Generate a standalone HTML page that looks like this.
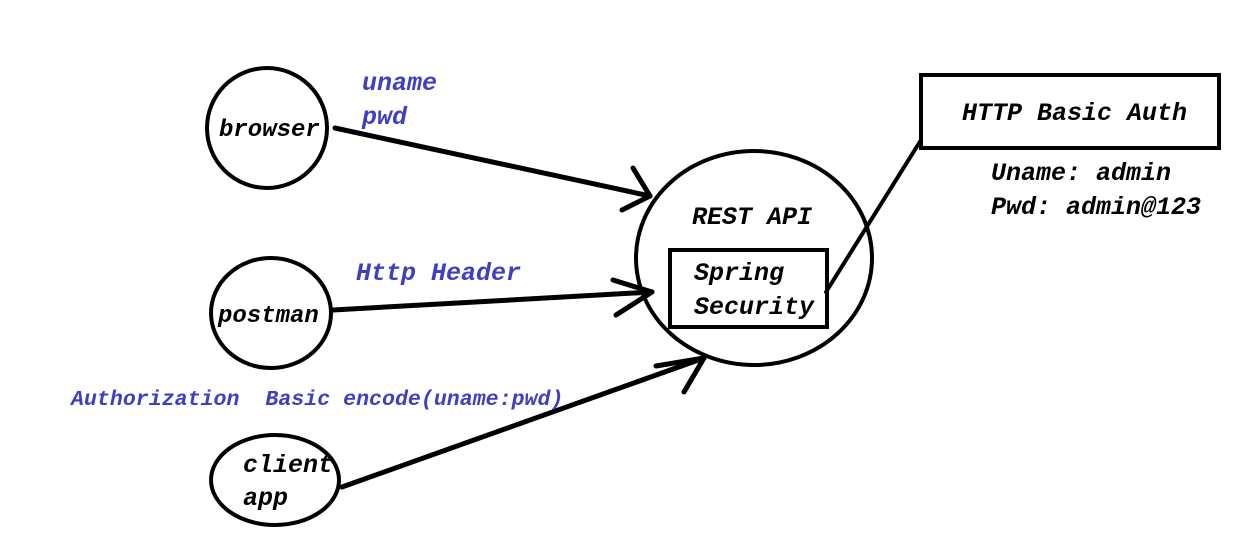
<!DOCTYPE html>
<html><head><meta charset="utf-8"><style>
html,body{margin:0;padding:0;background:#fff;}
svg{display:block;}
text{font-family:"Liberation Mono",monospace;font-weight:bold;font-style:italic;white-space:pre;}
</style></head><body>
<svg width="1254" height="553" viewBox="0 0 1254 553" xmlns="http://www.w3.org/2000/svg">
<g fill="none" stroke="#000" stroke-width="4" stroke-linecap="round">
<ellipse cx="267" cy="128" rx="60" ry="60"/>
<ellipse cx="271" cy="313" rx="60" ry="55"/>
<ellipse cx="275" cy="480" rx="64" ry="45"/>
<ellipse cx="754" cy="258" rx="118" ry="107"/>
<rect x="670" y="250" width="157" height="77"/>
<rect x="921" y="75" width="298" height="73"/>
<line x1="335" y1="128" x2="650" y2="196" stroke-width="5"/>
<line x1="633" y1="168" x2="650" y2="196" stroke-width="5"/>
<line x1="622" y1="210" x2="650" y2="196" stroke-width="5"/>
<line x1="333" y1="310" x2="652" y2="292" stroke-width="5"/>
<line x1="613" y1="280" x2="652" y2="292" stroke-width="5"/>
<line x1="616" y1="315" x2="652" y2="292" stroke-width="5"/>
<line x1="342" y1="487" x2="704" y2="358" stroke-width="5"/>
<line x1="656" y1="366" x2="704" y2="358" stroke-width="5"/>
<line x1="684" y1="392" x2="704" y2="358" stroke-width="5"/>
<line x1="826" y1="292" x2="921" y2="140"/>
</g>
<g font-size="25" fill="#000">
<text x="219" y="136" font-size="24">browser</text>
<text x="218" y="322" font-size="24">postman</text>
<text x="243" y="472">client</text>
<text x="243" y="505">app</text>
<text x="692" y="224">REST API</text>
<text x="694" y="280">Spring</text>
<text x="694" y="314">Security</text>
<text x="962" y="120">HTTP Basic Auth</text>
<text x="991" y="180">Uname: admin</text>
<text x="991" y="214">Pwd: admin@123</text>
</g>
<g font-size="25" fill="#3f3fc4">
<text x="362" y="90">uname</text>
<text x="362" y="124">pwd</text>
<text x="356" y="280">Http Header</text>
<text x="71" y="405" font-size="21.6" xml:space="preserve">Authorization  Basic encode(uname:pwd)</text>
</g>
</svg>
</body></html>
